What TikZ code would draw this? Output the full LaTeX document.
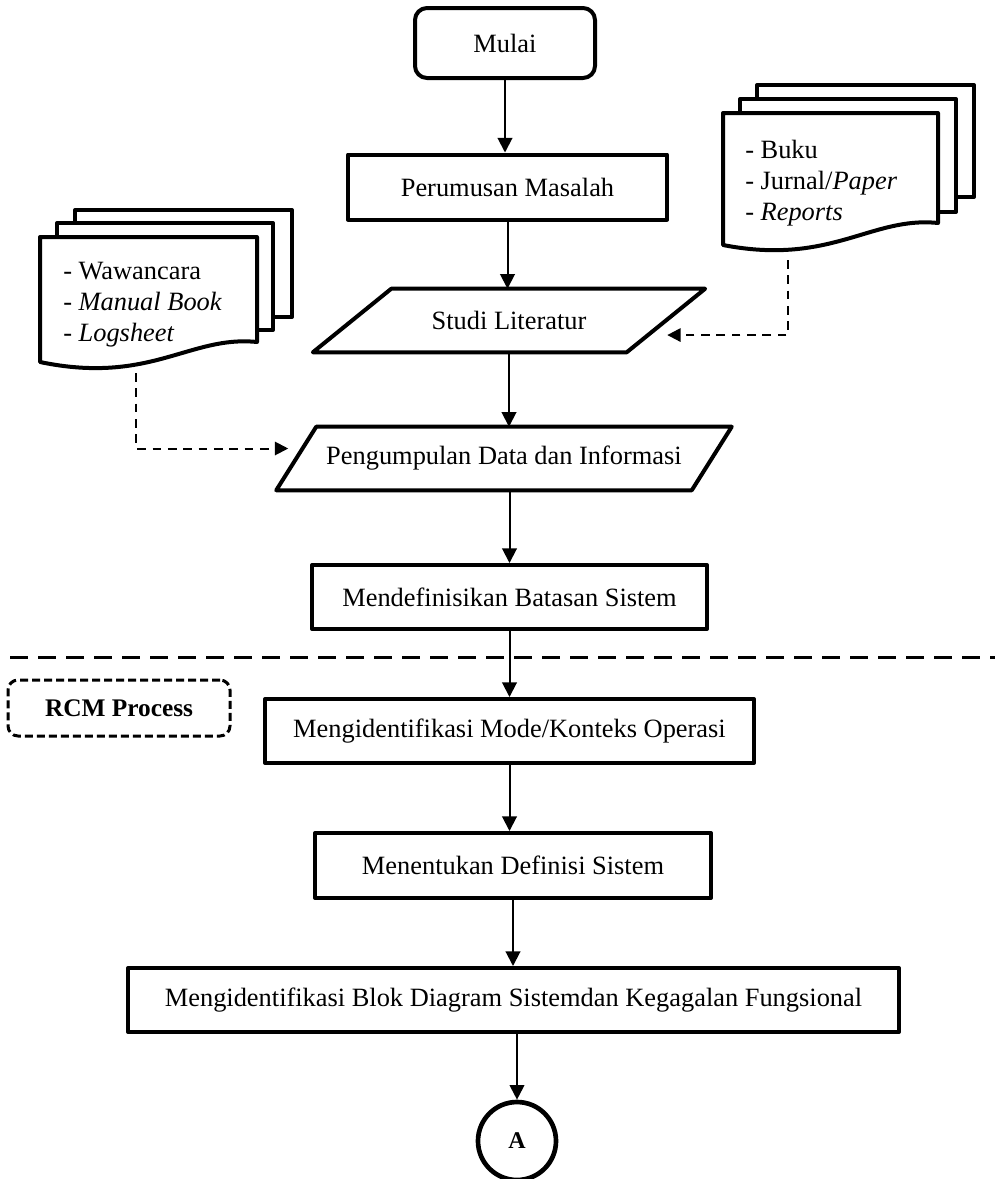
\documentclass[tikz,border=0pt]{standalone}
\usepackage{fontspec}
\setmainfont{Liberation Serif}
\usetikzlibrary{arrows.meta}
\begin{document}
\begin{tikzpicture}[x=0.75pt,y=-0.75pt,
  every node/.style={font=\fontsize{19.8}{23}\selectfont, inner sep=0pt},
  box/.style={draw, line width=3pt, line join=round, fill=white},
  plain/.style={draw=none},
  outline/.style={draw, line width=3pt, line join=round},
  page/.style={draw, line width=3pt, line join=round, fill=white},
  arr/.style={line width=1.5pt, -{Triangle[length=11pt,width=11pt]}},
  darr/.style={line width=1.5pt, dash pattern=on 6.5pt off 5pt, -{Triangle[length=10pt,width=10pt]}},
  sepline/.style={line width=2.25pt, dash pattern=on 13.5pt off 7.5pt},
  tagbox/.style={draw, line width=2.25pt, dash pattern=on 6pt off 3pt, rounded corners=7.5pt, font=\fontsize{19}{23}\selectfont\bfseries},
  doctext/.style={anchor=base west}
]
\useasboundingbox (0,0) rectangle (995,1179);

% document stack on the left
\draw[page] (75,210) rectangle (292,317);
\draw[page] (57,223) rectangle (273,330);
\draw[page] (40,237) -- (257,237) -- (257,342) .. controls (190,335) and (150,385) .. (40,362) -- cycle;
\node[doctext] (lw1) at (63,279) {- Wawancara};
\node[doctext] (lw2) at (63,310) {- \textit{Manual Book}};
\node[doctext] (lw3) at (63,341) {- \textit{Logsheet}};
\coordinate (lfoot) at (136,373);

% document stack on the right
\draw[page] (757,85) rectangle (974,197);
\draw[page] (740,99) rectangle (956,212);
\draw[page] (723,113) -- (938,113) -- (938,223) .. controls (871,216) and (831,266) .. (723,245) -- cycle;
\node[doctext] (rb1) at (745,158) {- Buku};
\node[doctext] (rb2) at (745,189) {- Jurnal/\textit{Paper}};
\node[doctext] (rb3) at (745,220) {- \textit{Reports}};
\coordinate (rfoot) at (788,260);

% main flow
\node[box, rounded corners=9pt, minimum width=135pt, minimum height=52.5pt] (mulai) at (505,43) {Mulai};
\node[box, minimum width=239.25pt, minimum height=48.75pt] (rumus) at (507.5,187) {Perumusan Masalah};

\node[plain, minimum width=235pt, minimum height=47.25pt] (studi) at (509,320.5) {};
\draw[outline] ([xshift=29.4pt]studi.north west) -- ([xshift=29.4pt]studi.north east)
  -- ([xshift=-29.4pt]studi.south east) -- ([xshift=-29.4pt]studi.south west) -- cycle;
\node at (studi) {Studi Literatur};

\node[plain, minimum width=311.25pt, minimum height=47.25pt] (kumpul) at (504,458.5) {};
\draw[outline] ([xshift=15pt]kumpul.north west) -- ([xshift=15pt]kumpul.north east)
  -- ([xshift=-15pt]kumpul.south east) -- ([xshift=-15pt]kumpul.south west) -- cycle;
\node at (kumpul) {Pengumpulan Data dan Informasi};

\node[box, minimum width=296.25pt, minimum height=48pt] (batas) at (509.5,597) {Mendefinisikan Batasan Sistem};

% boundary of the RCM part
\draw[sepline] (10,657) -- (995,657);
\node[tagbox, minimum width=166.5pt, minimum height=42pt] (rcm) at (119,708) {RCM Process};

\node[box, minimum width=366.75pt, minimum height=48pt] (mode) at (509.5,731) {Mengidentifikasi Mode/Konteks Operasi};
\node[box, minimum width=297pt, minimum height=48.75pt] (defin) at (513,865.5) {Menentukan Definisi Sistem};
\node[box, minimum width=578.25pt, minimum height=48pt] (blok) at (513.5,1000) {Mengidentifikasi Blok Diagram Sistemdan Kegagalan Fungsional};
\node[draw, circle, line width=3.5pt, minimum size=58.5pt, font=\fontsize{18}{22}\selectfont\bfseries] (conA) at (517,1141) {A};

% connectors
\draw[arr] (mulai.south) -- (mulai.south |- rumus.north);
\draw[arr] (rumus.south) -- (rumus.south |- studi.north);
\draw[arr] (studi.south) -- (studi.south |- kumpul.north);
\draw[arr] (batas.north |- kumpul.south) -- (batas.north);
\draw[arr] (batas.south) -- (batas.south |- mode.north);
\draw[arr] (mode.south) -- (mode.south |- defin.north);
\draw[arr] (defin.south) -- (defin.south |- blok.north);
\draw[arr] (conA.north |- blok.south) -- (conA.north);

\draw[darr] (lfoot) |- ([xshift=-6pt,yshift=7.5pt]kumpul.west);
\draw[darr] (rfoot) |- ([xshift=1pt,yshift=-10.9pt]studi.east);
\end{tikzpicture}
\end{document}
